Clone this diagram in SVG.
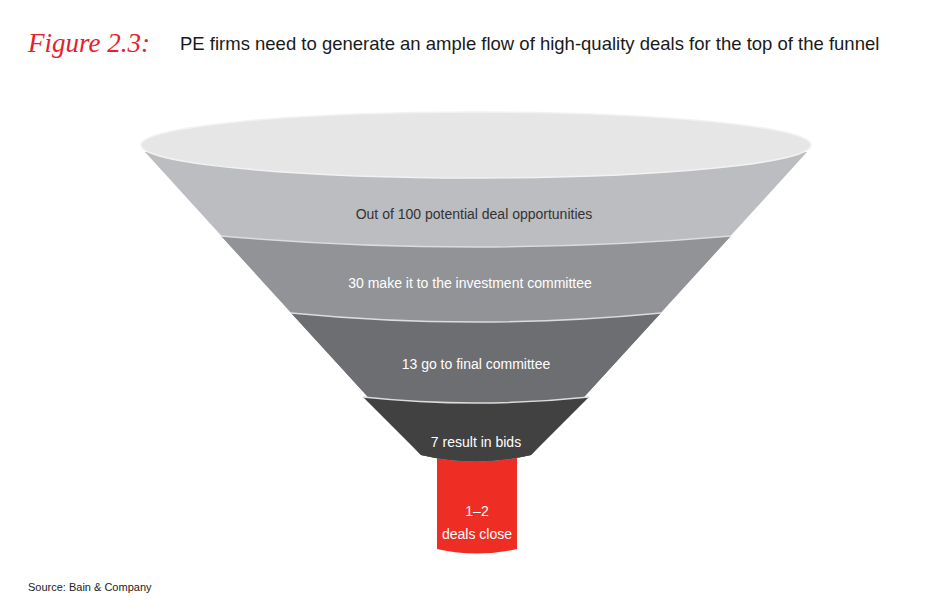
<svg xmlns="http://www.w3.org/2000/svg" width="950" height="615" viewBox="0 0 950 615">
<style>
.t{font-family:"Liberation Sans",Arial,sans-serif;font-size:14px;text-anchor:middle}
.sep{fill:none;stroke:#dcdcdd;stroke-width:1.5}
</style>
<rect width="950" height="615" fill="#fff"/>
<text x="28" y="52" font-family="Liberation Serif,serif" font-style="italic" font-size="27" fill="#e8202a">Figure 2.3:</text>
<text x="180" y="50" font-family="Liberation Sans,Arial,sans-serif" font-size="18.5" fill="#1a1a1a">PE firms need to generate an ample flow of high-quality deals for the top of the funnel</text>
<g id="close">
<path d="M437,440 L517,440 L517,549 Q477,558 437,549 Z" fill="#ee2e24"/>
<text class="t" x="477" y="516" fill="#fff">1–2</text>
<text class="t" x="477" y="539" fill="#fff">deals close</text>
</g>
<g id="band1">
<path d="M145,152 L421,455 Q476,468 531,455 L807,152 Z" fill="#bcbdc0"/>
</g>
<g id="band2">
<path d="M221,236 L421,455 Q476,468 531,455 L731,236 Q476,258 221,236 Z" fill="#929396"/>
<path class="sep" d="M221,236 Q476,258 731,236"/>
</g>
<g id="band3">
<path d="M291,313 L421,455 Q476,468 531,455 L661,313 Q476,331 291,313 Z" fill="#6d6e71"/>
<path class="sep" d="M291,313 Q476,331 661,313"/>
</g>
<g id="band4">
<path d="M363,397 L421,455 Q476,468 531,455 L589,397 Q476,409 363,397 Z" fill="#414142"/>
<path class="sep" d="M363,397 Q476,409 589,397"/>
</g>
<g id="top">
<ellipse cx="476" cy="145" rx="335" ry="33" fill="#e6e6e7" stroke="#f2f2f2" stroke-width="1.5"/>
</g>
<g id="labels">
<text class="t" x="474" y="219" fill="#333">Out of 100 potential deal opportunities</text>
<text class="t" x="470" y="288" fill="#fff">30 make it to the investment committee</text>
<text class="t" x="476" y="369" fill="#fff">13 go to final committee</text>
<text class="t" x="476" y="447" fill="#fff">7 result in bids</text>
</g>
<text x="28" y="591" font-family="Liberation Sans,Arial,sans-serif" font-size="11" fill="#222">Source: Bain &amp; Company</text>
</svg>
